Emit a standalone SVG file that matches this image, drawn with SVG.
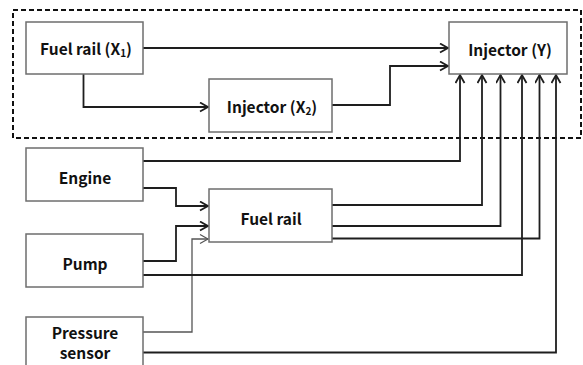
<svg xmlns="http://www.w3.org/2000/svg" width="583" height="365" viewBox="0 0 583 365">
<style>
.box{fill:#fff;stroke:#6e6e6e;stroke-width:1.5}
.lbl{font-family:"Noto Sans CJK KR","Noto Sans",sans-serif;font-weight:bold;font-size:15.5px;fill:#111;text-anchor:middle;dominant-baseline:central}
.sub{font-size:10px}
.c{fill:none;stroke:#1e1e1e;stroke-width:1.8}
.thin{stroke:#555;stroke-width:1.3}
</style>
<defs>
<marker id="a" markerUnits="userSpaceOnUse" markerWidth="12" markerHeight="12" refX="9" refY="5" orient="auto">
<path d="M1,0.5 L9,5 L1,9.5" fill="none" stroke="#1e1e1e" stroke-width="1.8"/>
</marker>
<marker id="ag" markerUnits="userSpaceOnUse" markerWidth="12" markerHeight="12" refX="9" refY="5" orient="auto">
<path d="M1,0.5 L9,5 L1,9.5" fill="none" stroke="#555" stroke-width="1.2"/>
</marker>
</defs>
<rect x="13" y="10" width="568" height="128" fill="none" stroke="#111" stroke-width="2" stroke-dasharray="5,3"/>
<g id="connectors">
<path class="c" d="M143,48 H448" marker-end="url(#a)"/>
<path class="c" d="M83.5,74 V107 H208" marker-end="url(#a)"/>
<path class="c" d="M332,105 H390 V66 H448" marker-end="url(#a)"/>
<path class="c" d="M143,161 H460 V75" marker-end="url(#a)"/>
<path class="c" d="M143,188 H176 V206 H208" marker-end="url(#a)"/>
<path class="c" d="M143,261 H176 V226 H208" marker-end="url(#a)"/>
<path class="c thin" d="M143,332 H192 V239 H208" marker-end="url(#ag)"/>
<path class="c" d="M332,205 H482 V75" marker-end="url(#a)"/>
<path class="c" d="M332,226 H500.5 V75" marker-end="url(#a)"/>
<path class="c" d="M332,238.5 H539.5 V75" marker-end="url(#a)"/>
<path class="c" d="M143,275 H522 V75" marker-end="url(#a)"/>
<path class="c" d="M143,352.5 H556 V75" marker-end="url(#a)"/>
</g>
<g id="fuelrail_x1"><rect class="box" x="26" y="22" width="117" height="52"/><text class="lbl" x="86" y="48">Fuel rail (X<tspan class="sub" dy="4">1</tspan><tspan dy="-4">)</tspan></text></g>
<g id="injector_x2"><rect class="box" x="209" y="79" width="123" height="53"/><text class="lbl" x="272" y="106">Injector (X<tspan class="sub" dy="4">2</tspan><tspan dy="-4">)</tspan></text></g>
<g id="injector_y"><rect class="box" x="449" y="22" width="118" height="52"/><text class="lbl" x="510" y="49">Injector (Y)</text></g>
<g id="engine"><rect class="box" x="26" y="148" width="117" height="53"/><text class="lbl" x="85" y="177">Engine</text></g>
<g id="pump"><rect class="box" x="26" y="234" width="117" height="53"/><text class="lbl" x="85" y="263">Pump</text></g>
<g id="pressure_sensor"><rect class="box" x="26" y="317" width="117" height="56"/><text class="lbl" x="85" y="332">Pressure</text><text class="lbl" x="85" y="352">sensor</text></g>
<g id="fuelrail"><rect class="box" x="209" y="189" width="123" height="53"/><text class="lbl" x="271" y="218">Fuel rail</text></g>
</svg>
